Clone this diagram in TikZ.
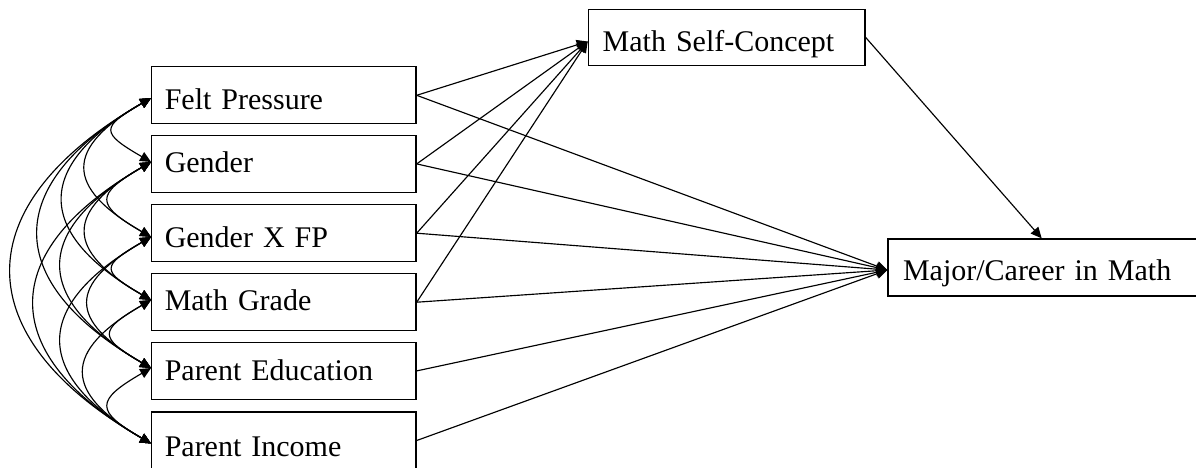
\documentclass[tikz,border=0pt]{standalone}
\usepackage{fontspec}
\setmainfont{Liberation Serif}
\usetikzlibrary{arrows.meta}
\begin{document}
\begin{tikzpicture}[x=1pt,y=-1pt,
  box/.style={draw, line width=1.3pt, rectangle, inner ysep=0pt, text depth=0pt, align=left,
    font=\fontsize{30}{36}\selectfont},
  lbox/.style={box, inner xsep=13pt, minimum height=57pt, text width=238.3pt},
  th/.style={text height=#1pt},
  conn/.style={line width=1.15pt, -{Triangle[length=11pt,width=10pt]}},
  cov/.style={line width=1.15pt, {Triangle[length=11pt,width=10pt]}-{Triangle[length=11pt,width=10pt]}}]
\useasboundingbox (0,0) rectangle (1196,467);
% left boxes
\node[lbox, th=29.3] (fp) at (283.9,95.3) {Felt Pressure};
\node[lbox, th=17.1] (g)  at (283.9,163.9) {Gender};
\node[lbox, th=29.5] (gx) at (283.9,233.2) {Gender X FP};
\node[lbox, th=17.5] (mg) at (283.9,302.2) {Math Grade};
\node[lbox, th=19.1] (pe) at (283.9,370.9) {Parent Education};
\node[lbox, th=31.9] (pi) at (283.9,440.5) {Parent Income};
% outcome boxes
\node[box, th=28.3, inner xsep=14.4pt, minimum height=56.4pt, text width=248pt] (msc) at (726.7,37.5) {Math Self-Concept};
\node[box, th=26.9, inner xsep=15pt, minimum height=57pt, text width=282pt] (maj) at (1044,267.5) {Major/Career in Math};
% tip coordinates
\coordinate (t1) at ([yshift=-2.7pt]fp.west);
\coordinate (t2) at ([yshift=1.9pt]g.west);
\coordinate (t3) at ([yshift=-3.8pt]gx.west);
\coordinate (t4) at ([yshift=2.2pt]mg.west);
\coordinate (t5) at ([yshift=2.9pt]pe.west);
\coordinate (t6) at ([yshift=-3pt]pi.west);
\coordinate (mscin) at ([yshift=-4pt]msc.west);
\coordinate (majin) at ([yshift=-2.5pt]maj.west);
\coordinate (majtop) at ([xshift=-2.3pt]maj.north);
% covariances
\draw[cov] (t1) to[out=210,in=150,distance=58.5pt] (t2);
\draw[cov] (t1) to[out=210,in=150,distance=100.1pt] (t3);
\draw[cov] (t1) to[out=210,in=150,distance=135pt] (t4);
\draw[cov] (t1) to[out=210,in=150,distance=172.7pt] (t5);
\draw[cov] (t1) to[out=210,in=150,distance=214.3pt] (t6);
\draw[cov] (t2) to[out=210,in=150,distance=64.7pt] (t3);
\draw[cov] (t2) to[out=210,in=150,distance=99.6pt] (t4);
\draw[cov] (t2) to[out=210,in=150,distance=137.3pt] (t5);
\draw[cov] (t2) to[out=210,in=150,distance=178.9pt] (t6);
\draw[cov] (t3) to[out=210,in=150,distance=58pt] (t4);
\draw[cov] (t3) to[out=210,in=150,distance=95.8pt] (t5);
\draw[cov] (t3) to[out=210,in=150,distance=137.3pt] (t6);
\draw[cov] (t4) to[out=210,in=150,distance=60.8pt] (t5);
\draw[cov] (t4) to[out=210,in=150,distance=102.4pt] (t6);
\draw[cov] (t5) to[out=210,in=150,distance=64.7pt] (t6);
% paths to Math Self-Concept
\draw[conn] (fp.east) -- (mscin);
\draw[conn] (g.east) -- (mscin);
\draw[conn] (gx.east) -- (mscin);
\draw[conn] (mg.east) -- (mscin);
% paths to Major/Career
\draw[conn] (fp.east) -- (majin);
\draw[conn] (g.east) -- (majin);
\draw[conn] (gx.east) -- (majin);
\draw[conn] (mg.east) -- (majin);
\draw[conn] (pe.east) -- (majin);
\draw[conn] (pi.east) -- (majin);
\draw[conn] (msc.east) -- (majtop);
\end{tikzpicture}
\end{document}
